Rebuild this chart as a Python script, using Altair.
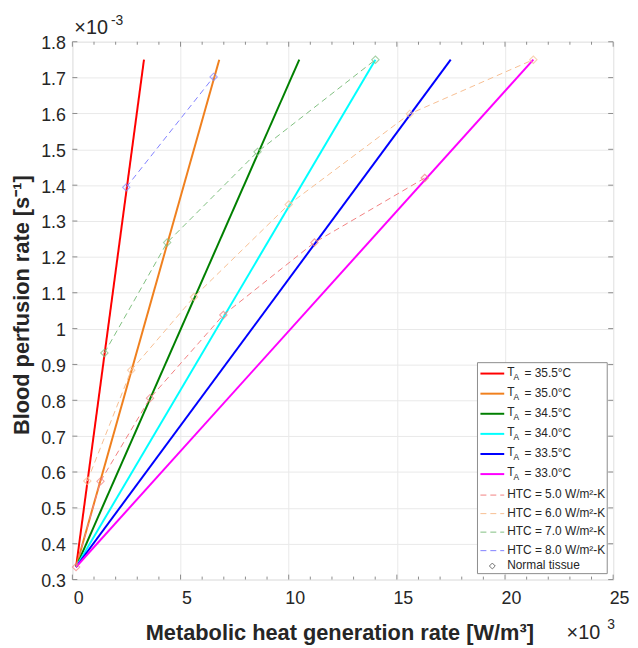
import altair as alt
import pandas as pd

# ---------------- data ----------------
# solid lines: ambient temperature T_A
ta_labels = ["35.5", "35.0", "34.5", "34.0", "33.5", "33.0"]
ta_colors = ["#ff0000", "#f0801e", "#008000", "#00ffff", "#0000ff", "#ff00ff"]
origin_x = 0.17
origin_y = 0.335
ta_end_x = [3.31, 6.79, 10.49, 14.01, 17.49, 21.31]
ta_end_y = [1.75, 1.75, 1.75, 1.75, 1.75, 1.75]

# dashed lines: heat transfer coefficient (normal tissue points)
htc_labels = ["5.0", "6.0", "7.0", "8.0"]
htc_colors = ["#f27f7f", "#f7be92", "#80bf80", "#8080ff"]
htc5_x = [0.17, 1.30, 3.59, 6.98, 11.19, 16.29]
htc5_y = [0.335, 0.574, 0.806, 1.038, 1.240, 1.420]
htc6_x = [0.69, 2.72, 5.62, 10.00, 15.60, 21.31]
htc6_y = [0.575, 0.884, 1.088, 1.346, 1.599, 1.750]
htc7_x = [1.48, 4.38, 8.56, 14.01]
htc7_y = [0.932, 1.240, 1.493, 1.750]
htc8_x = [2.49, 6.53]
htc8_y = [1.394, 1.702]

x_ticks = [0, 5, 10, 15, 20, 25]
x_minor = list(range(0, 26))
y_ticks = [0.3, 0.4, 0.5, 0.6, 0.7, 0.8, 0.9, 1.0, 1.1, 1.2, 1.3, 1.4, 1.5, 1.6, 1.7, 1.8]

# ---------------- build tables ----------------
W, H = 546, 543
FONT = "Liberation Sans"
TXT = "#262626"

solid_names = ["T" + t for t in ta_labels]
htc_names = ["HTC" + h for h in htc_labels]

rows = []
for name, ex, ey in zip(solid_names, ta_end_x, ta_end_y):
    rows.append({"series": name, "order": 0, "x": origin_x, "y": origin_y})
    rows.append({"series": name, "order": 1, "x": ex, "y": ey})
solid_df = pd.DataFrame(rows)

rows = []
for name, xs_, ys_ in zip(htc_names, [htc5_x, htc6_x, htc7_x, htc8_x],
                          [htc5_y, htc6_y, htc7_y, htc8_y]):
    for i, (a, b) in enumerate(zip(xs_, ys_)):
        rows.append({"series": name, "order": i, "x": a, "y": b})
htc_df = pd.DataFrame(rows)

color_scale = alt.Scale(domain=solid_names + htc_names, range=ta_colors + htc_colors)

x_axis = alt.Axis(values=x_ticks, title=None, ticks=False, domain=False, grid=True,
                  gridColor="#e9e9e9", labelFontSize=18, labelColor=TXT, labelFont=FONT,
                  labelPadding=10, labelOffset=6, labelFlush=False)
y_axis = alt.Axis(values=y_ticks, title=None, ticks=False, domain=False, grid=True,
                  gridColor="#e9e9e9", labelFontSize=18, labelColor=TXT, labelFont=FONT,
                  labelPadding=7, labelOffset=2,
                  labelExpr="abs(datum.value - 1) < 1e-9 ? '1' : format(datum.value, '.1f')")
xs = alt.Scale(domain=[0, 25], nice=False, zero=False)
ys = alt.Scale(domain=[0.3, 1.8], nice=False, zero=False)

X = alt.X("x:Q", scale=xs, axis=x_axis)
Y = alt.Y("y:Q", scale=ys, axis=y_axis)
C = alt.Color("series:N", scale=color_scale, legend=None)

solid = alt.Chart(solid_df).mark_line(strokeWidth=2).encode(x=X, y=Y, color=C, order="order:Q")
dashed = alt.Chart(htc_df).mark_line(strokeWidth=1, strokeDash=[6, 4]).encode(
    x=X, y=Y, color=C, order="order:Q")
points = alt.Chart(htc_df).mark_point(shape="diamond", filled=False, size=55, strokeWidth=1.1).encode(
    x=X, y=Y, color=C)

# inward ticks
xt_df = pd.DataFrame({"x": x_minor, "major": [v % 5 == 0 for v in x_minor]})
xt_major = xt_df[xt_df.major]
xt_min = xt_df[~xt_df.major]
tick_layers = []
for d, ln in [(xt_major, 5), (xt_min, 3)]:
    tick_layers.append(alt.Chart(d).mark_rule(color="#8c8c8c", strokeWidth=1).encode(
        x=X, y=alt.value(H), y2=alt.value(H - ln)))
    tick_layers.append(alt.Chart(d).mark_rule(color="#8c8c8c", strokeWidth=1).encode(
        x=X, y=alt.value(0), y2=alt.value(ln)))
yt_df = pd.DataFrame({"y": y_ticks})
tick_layers.append(alt.Chart(yt_df).mark_rule(color="#8c8c8c", strokeWidth=1).encode(
    y=Y, x=alt.value(0), x2=alt.value(5)))
tick_layers.append(alt.Chart(yt_df).mark_rule(color="#8c8c8c", strokeWidth=1).encode(
    y=Y, x=alt.value(W), x2=alt.value(W - 5)))

main = alt.layer(solid, dashed, points, *tick_layers)

# ---------------- legend (pixel layout) ----------------
ta_row_y = [335 + 20.3 * i for i in range(len(ta_labels))]
htc_row_y = [457.7 + 18.7 * j for j in range(len(htc_labels))]
normal_row_y = 529.3
LX0, LX1, TX = 412, 436, 439

leg_solid = pd.DataFrame({"x": LX0, "x2": LX1, "y": ta_row_y, "col": ta_colors,
                          "t1": "T", "t2": "A", "t3": ["= " + t + "°C" for t in ta_labels]})
leg_dash = pd.DataFrame({"x": LX0, "x2": LX1, "y": htc_row_y, "col": htc_colors,
                         "t": ["HTC = " + h + " W/m²-K" for h in htc_labels]})
PX = lambda f: alt.X(f, scale=None, axis=None)
PY = lambda f: alt.Y(f, scale=None, axis=None)
PC = alt.Color("col:N", scale=None, legend=None)

dummy = alt.Data(values=[{"a": 1}])
box = alt.Chart(dummy).mark_rect(fill="white", stroke="#8c8c8c", strokeWidth=1).encode(
    x=alt.value(409), x2=alt.value(540), y=alt.value(324), y2=alt.value(537))
ls = alt.Chart(leg_solid).mark_rule(strokeWidth=2).encode(
    x=PX("x:Q"), x2="x2:Q", y=PY("y:Q"), color=PC)
ld = alt.Chart(leg_dash).mark_rule(strokeWidth=1, strokeDash=[6, 4]).encode(
    x=PX("x:Q"), x2="x2:Q", y=PY("y:Q"), color=PC)
tT = alt.Chart(leg_solid).mark_text(align="left", baseline="middle", fontSize=12, font=FONT,
                                    color=TXT, dx=TX - LX0, dy=-2).encode(
    x=PX("x:Q"), y=PY("y:Q"), text="t1:N")
tA = alt.Chart(leg_solid).mark_text(align="left", baseline="middle", fontSize=8.5, font=FONT,
                                    color=TXT, dx=TX - LX0 + 6.5, dy=3).encode(
    x=PX("x:Q"), y=PY("y:Q"), text="t2:N")
tR = alt.Chart(leg_solid).mark_text(align="left", baseline="middle", fontSize=12, font=FONT,
                                    color=TXT, dx=TX - LX0 + 17.5, dy=-1).encode(
    x=PX("x:Q"), y=PY("y:Q"), text="t3:N")
tH = alt.Chart(leg_dash).mark_text(align="left", baseline="middle", fontSize=12, font=FONT,
                                   color=TXT, dx=TX - LX0, dy=-1).encode(
    x=PX("x:Q"), y=PY("y:Q"), text="t:N")
nd = alt.Chart(dummy).mark_point(shape="diamond", filled=False, size=35, strokeWidth=1,
                                 color="#333333").encode(x=alt.value(424), y=alt.value(normal_row_y))
nt = alt.Chart(dummy).mark_text(align="left", baseline="middle", fontSize=12, font=FONT,
                                color=TXT, text="Normal tissue").encode(
    x=alt.value(TX), y=alt.value(normal_row_y - 1))

# axis titles and exponent labels
ymul = alt.Chart(dummy).mark_text(align="left", baseline="alphabetic", fontSize=20, font=FONT,
                                  color=TXT, text="×10").encode(x=alt.value(2), y=alt.value(-8))
ymul_e = alt.Chart(dummy).mark_text(align="left", baseline="alphabetic", fontSize=14, font=FONT,
                                    color=TXT, text="-3").encode(x=alt.value(39), y=alt.value(-17))
xmul = alt.Chart(dummy).mark_text(align="left", baseline="alphabetic", fontSize=20, font=FONT,
                                  color=TXT, text="×10").encode(x=alt.value(499), y=alt.value(603))
xmul_e = alt.Chart(dummy).mark_text(align="left", baseline="alphabetic", fontSize=14, font=FONT,
                                    color=TXT, text="3").encode(x=alt.value(540), y=alt.value(593))
xtitle = alt.Chart(dummy).mark_text(align="center", baseline="alphabetic", fontSize=22,
                                    fontWeight="bold", font=FONT, color=TXT,
                                    text="Metabolic heat generation rate [W/m³]").encode(
    x=alt.value(270), y=alt.value(604))
ytitle = alt.Chart(dummy).mark_text(align="center", baseline="alphabetic", fontSize=22,
                                    fontWeight="bold", font=FONT, color=TXT, angle=270,
                                    text="Blood perfusion rate [s⁻¹]").encode(
    x=alt.value(-44), y=alt.value(266))

legend = alt.layer(box, ls, ld, tT, tA, tR, tH, nd, nt, ymul, ymul_e, xmul, xmul_e, xtitle, ytitle)

chart = alt.layer(main, legend).resolve_scale(
    x="independent", y="independent", color="independent"
).properties(
    width=W, height=H,
    autosize=alt.AutoSizeParams(type="none"),
    padding={"left": 65, "top": 31, "right": 17, "bottom": 66},
).configure_view(stroke="#8c8c8c", strokeWidth=1).configure(font=FONT)

chart.save("out.html", embed_options={"renderer": "svg", "actions": False})
